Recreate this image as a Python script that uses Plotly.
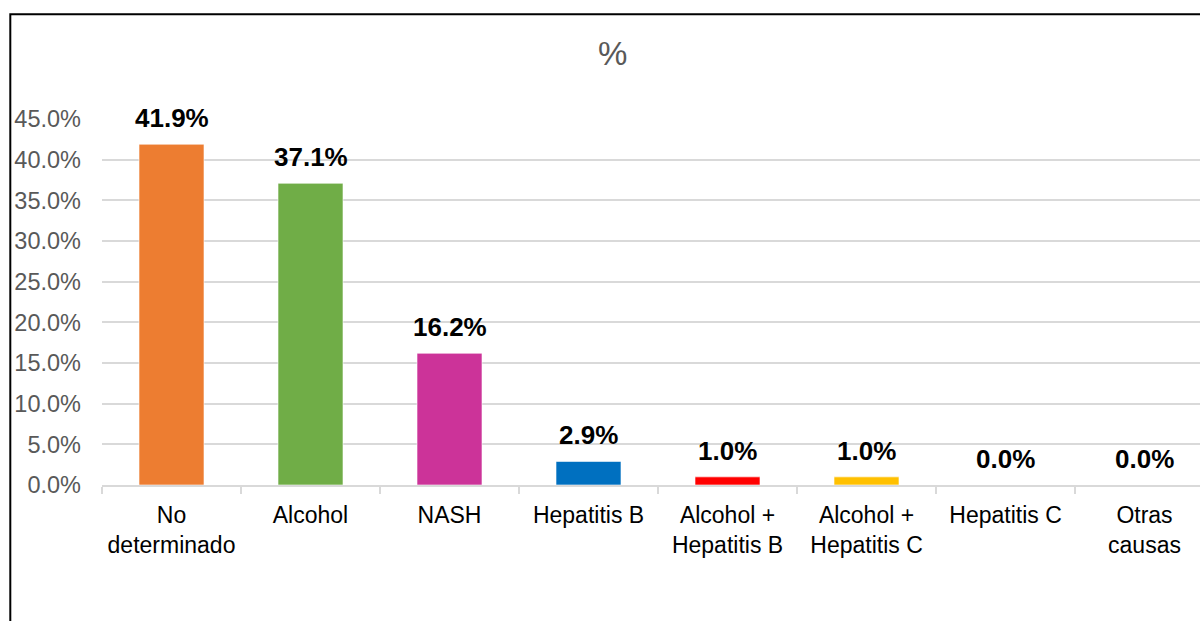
import plotly.graph_objects as go

categories = ["No<br>determinado", "Alcohol", "NASH", "Hepatitis B",
              "Alcohol +<br>Hepatitis B", "Alcohol +<br>Hepatitis C",
              "Hepatitis C", "Otras<br>causas"]
values = [41.9, 37.1, 16.2, 2.9, 1.0, 1.0, 0.0, 0.0]
colors = ["#ED7D31", "#70AD47", "#CC3399", "#0070C0", "#FF0000", "#FFC000", "#A5A5A5", "#5B9BD5"]
y_ticks = [0, 5, 10, 15, 20, 25, 30, 35, 40, 45]
y_tick_labels = [f"{v:.1f}%" for v in y_ticks]
title_text = "%"

W, H = 1200, 621
L, R, T, B = 102, 0, 119, 136
pw, ph = W - L - R, H - T - B
cat_px = 139.0

def px_x(px):
    return (px - L) / pw

def px_y(py):
    return (H - B - py) / ph

fig = go.Figure()
fig.add_trace(go.Bar(
    x=categories, y=values,
    marker=dict(color=colors, line=dict(color="rgba(255,255,255,0.6)", width=1)),
    hoverinfo="skip",
))

for c, v in zip(categories, values):
    fig.add_annotation(x=c, y=v, xref="x", yref="y", text=f"<b>{v:.1f}%</b>",
                       showarrow=False, yanchor="middle", yshift=26,
                       font=dict(family="Liberation Sans, Arial", size=26, color="#000000"))

fig.add_annotation(x=px_x(612), y=px_y(54), xref="paper", yref="paper", text=title_text,
                   showarrow=False, xanchor="center", yanchor="middle",
                   font=dict(family="Liberation Sans, Arial", size=33, color="#595959"))

fig.add_shape(type="rect", xref="paper", yref="paper",
              x0=px_x(10.3), x1=px_x(1260), y0=px_y(14.3), y1=px_y(700),
              line=dict(color="#000000", width=2), fillcolor="rgba(0,0,0,0)", layer="above")

fig.update_layout(
    width=W, height=H,
    margin=dict(l=L, r=R, t=T, b=B, pad=0, autoexpand=False),
    paper_bgcolor="white", plot_bgcolor="white",
    showlegend=False,
    bargap=1 - 65 / cat_px,
    xaxis=dict(
        range=[-0.5, pw / cat_px - 0.5],
        tickangle=0, automargin=False,
        tickson="boundaries", ticks="outside", ticklen=7, tickwidth=2, tickcolor="#D9D9D9",
        ticklabelstandoff=8,
        showline=True, linecolor="#D9D9D9", linewidth=2,
        tickfont=dict(family="Liberation Sans, Arial", size=23, color="#000000"),
        showgrid=False, fixedrange=True,
    ),
    yaxis=dict(
        range=[0, 45], automargin=False,
        tickvals=y_ticks, ticktext=y_tick_labels,
        showgrid=True, gridcolor="#D9D9D9", gridwidth=2,
        zeroline=False, showline=False, ticks="",
        ticklabelstandoff=20,
        tickfont=dict(family="Liberation Sans, Arial", size=23.5, color="#595959"),
        fixedrange=True,
    ),
)

fig.write_html("out.html")
